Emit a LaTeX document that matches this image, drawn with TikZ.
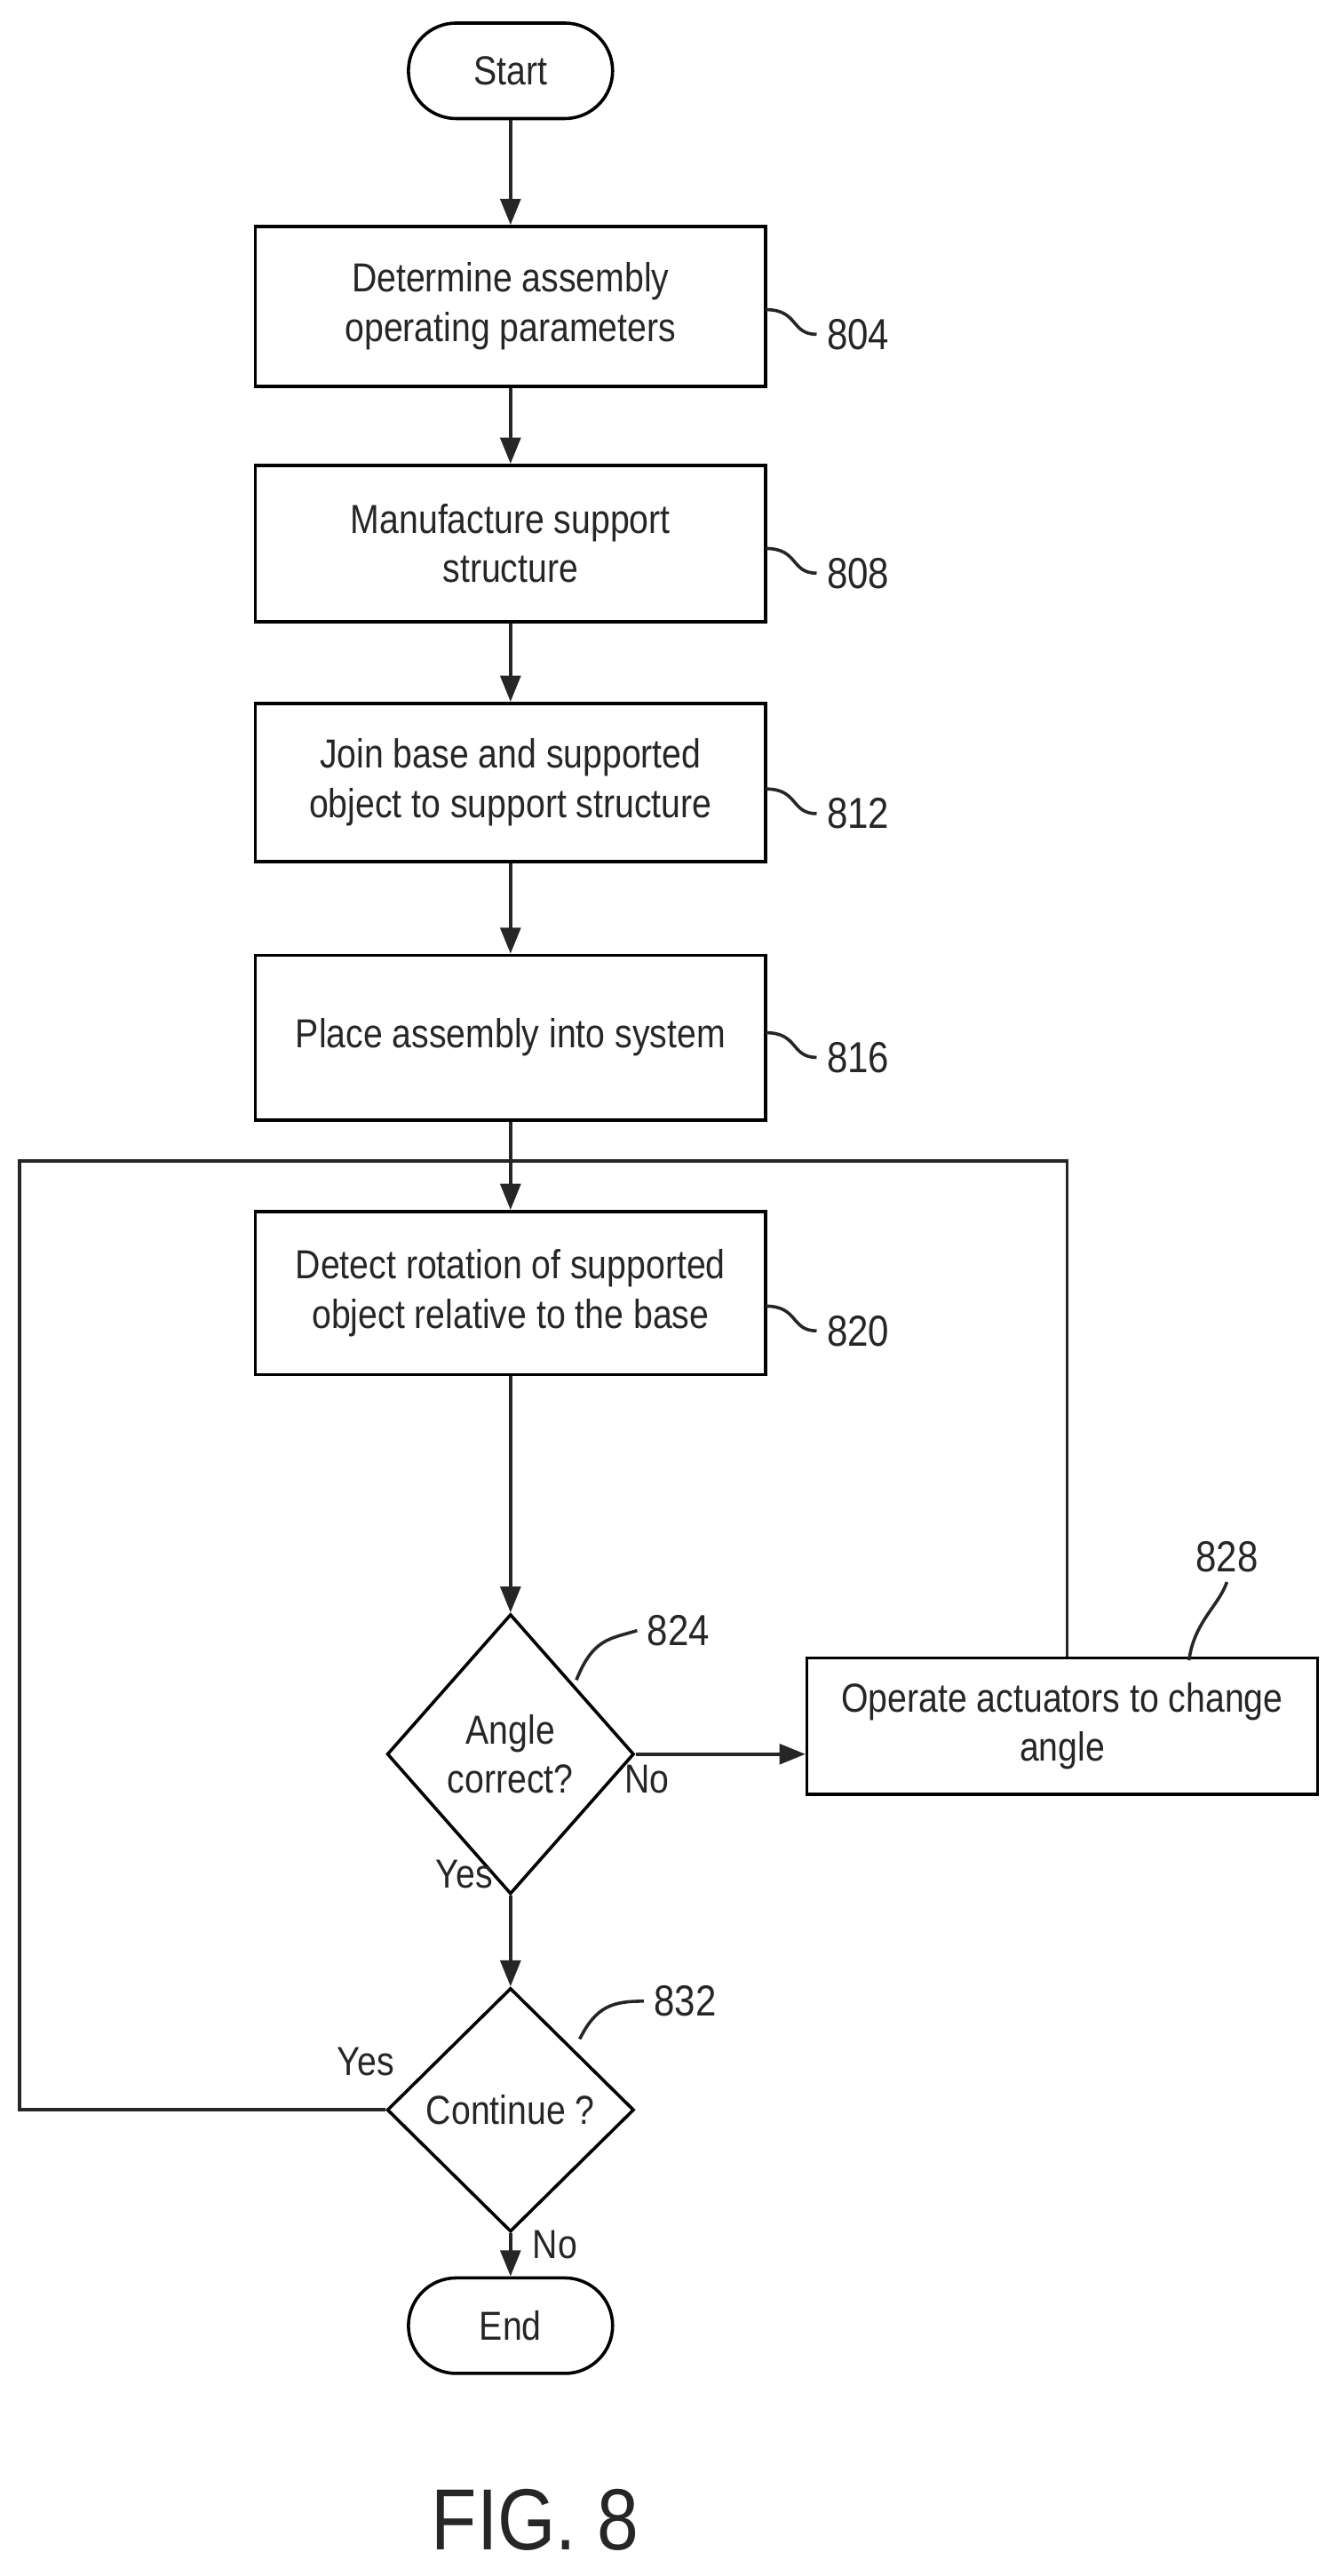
\documentclass[tikz,border=0pt]{standalone}
\usepackage{fontspec}
\setmainfont{Liberation Sans}[FakeStretch=0.86]
\usetikzlibrary{shapes.geometric,arrows.meta}
\begin{document}
\begin{tikzpicture}[x=0.02cm,y=-0.02cm,
  every node/.style={font=\fontsize{14}{17}\selectfont, text=black!85},
  box/.style={draw, line width=1.1pt, minimum width=6.2cm, align=center, inner sep=0pt},
  term/.style={draw, line width=1.1pt, rounded corners=0.58cm, minimum width=2.48cm, minimum height=1.16cm},
  dia/.style={draw, diamond, line width=1.1pt, minimum width=3cm, minimum height=3.4cm, inner sep=0pt, align=center},
  line/.style={line width=1.1pt, draw=black!85},
  arr/.style={line, -{Triangle[length=9pt,width=7pt]}},
  lbl/.style={font=\fontsize{15}{18}\selectfont}]
\useasboundingbox (0,0) rectangle (810,1564);
\node[term] (start) at (310,43) {Start};
\node[box, minimum height=1.94cm] (b804) at (310,186) {Determine assembly\\operating parameters};
\node[box, minimum height=1.9cm] (b808) at (310,330) {Manufacture support\\structure};
\node[box, minimum height=1.92cm] (b812) at (310,475) {Join base and supported\\object to support structure};
\node[box, minimum height=2cm] (b816) at (310,630) {Place assembly into system};
\node[box, minimum height=1.98cm] (b820) at (310,785) {Detect rotation of supported\\object relative to the base};
\node[dia] (d824) at (310,1065) {Angle\\correct?};
\node[box, minimum height=1.66cm] (b828) at (645,1048) {Operate actuators to change\\angle};
\node[dia, minimum height=2.96cm] (d832) at (310,1281) {Continue ?};
\node[term] (end) at (310,1412) {End};
\coordinate (j) at (310,705);
\coordinate (rt) at (648,705);
\coordinate (lt) at (12,705);
\coordinate (lb) at (12,1281);
\draw[arr] (start) -- (b804);
\draw[arr] (b804) -- (b808);
\draw[arr] (b808) -- (b812);
\draw[arr] (b812) -- (b816);
\draw[line] (b816) -- (j);
\draw[arr] (j) -- (b820);
\draw[arr] (b820) -- (d824);
\draw[arr] (d824.east) -- (b828.west |- d824.east);
\draw[line] (b828.north -| rt) -- (rt) -- (j);
\draw[arr] (d824) -- (d832);
\draw[line] (d832.west) -- (lb) -- (lt) -- (j);
\draw[arr] (d832) -- (end);
\node (no1) at (393,1080) {No};
\node (yes1) at (282,1138) {Yes};
\node (yes2) at (222,1252) {Yes};
\node (no2) at (337,1363) {No};
\node[lbl] (l804) at (521,203) {804};
\node[lbl] (l808) at (521,348) {808};
\node[lbl] (l812) at (521,494) {812};
\node[lbl] (l816) at (521,642) {816};
\node[lbl] (l820) at (521,808) {820};
\node[lbl] (l824) at (412,990) {824};
\node[lbl] (l828) at (745,945) {828};
\node[lbl] (l832) at (416,1215) {832};
\draw[line] (465,188) .. controls (485,188) and (480,203) .. (l804.west);
\draw[line] (465,333) .. controls (485,333) and (480,348) .. (l808.west);
\draw[line] (465,479) .. controls (485,479) and (480,494) .. (l812.west);
\draw[line] (465,627) .. controls (485,627) and (480,642) .. (l816.west);
\draw[line] (465,793) .. controls (485,793) and (480,808) .. (l820.west);
\draw[line] (350,1020) .. controls (360,995) and (370,995) .. (l824.west);
\draw[line] (722,1008) .. controls (725,985) and (740,975) .. (l828.south);
\draw[line] (352,1238) .. controls (362,1218) and (372,1215) .. (l832.west);
\node[font=\fontsize{30}{36}\selectfont] (fig) at (325,1530) {FIG. 8};
\end{tikzpicture}
\end{document}
